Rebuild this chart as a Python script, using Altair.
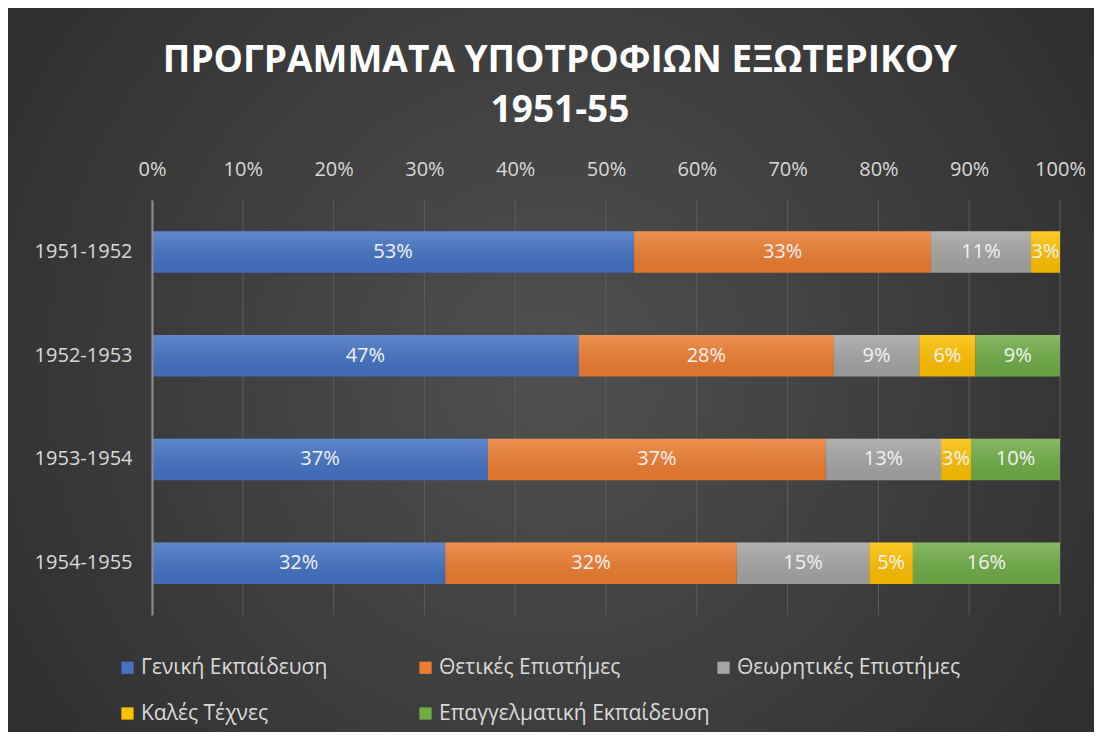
import altair as alt
import pandas as pd

periods = ["1951-1952", "1952-1953", "1953-1954", "1954-1955"]
categories = ["Γενική Εκπαίδευση", "Θετικές Επιστήμες", "Θεωρητικές Επιστήμες",
              "Καλές Τέχνες", "Επαγγελματική Εκπαίδευση"]
colors = ["#4472C4", "#ED7D31", "#A5A5A5", "#FFC000", "#70AD47"]
general = [53.1, 47.0, 37.0, 32.3]
positive = [32.7, 28.1, 37.2, 32.1]
theoretical = [11.0, 9.4, 12.7, 14.6]
arts = [3.2, 6.2, 3.3, 4.8]
vocational = [0.0, 9.3, 9.8, 16.2]
ticks = [0, 0.1, 0.2, 0.3, 0.4, 0.5, 0.6, 0.7, 0.8, 0.9, 1.0]
title_lines = ["ΠΡΟΓΡΑΜΜΑΤΑ ΥΠΟΤΡΟΦΙΩΝ ΕΞΩΤΕΡΙΚΟΥ", "1951-55"]

series = [general, positive, theoretical, arts, vocational]
rows = []
for ci, (cat, vals) in enumerate(zip(categories, series)):
    for p, v in zip(periods, vals):
        rows.append({"period": p, "category": cat, "ord": ci, "value": v})
df = pd.DataFrame(rows)

PW, PH = 908, 415
PADL, PADT = 144, 192
TW, TH = 1086, 724
PADR = TW - PADL - PW
PADB = TH - PADT - PH
FONT = "Open Sans"
LABEL_COLOR = "#d9d9d9"

xscale = alt.Scale(domain=[0, 1], nice=False, zero=True)
xaxis = alt.Axis(orient="top", format="%", values=ticks, grid=False, domain=False,
                 ticks=False, labelFontSize=20, labelColor=LABEL_COLOR, labelFont=FONT,
                 labelPadding=21, labelFlush=False, title=None, zindex=1)
yscale = alt.Scale(domain=periods, paddingInner=0.6, paddingOuter=0.3)
yaxis = alt.Axis(title=None, domain=True, domainColor="#8c8c8c", domainWidth=2,
                 ticks=False, labelFontSize=20, labelColor=LABEL_COLOR, labelFont=FONT,
                 labelPadding=20, zindex=1)

bg = alt.Chart(pd.DataFrame({"z": [0]})).mark_rect(
    color=alt.RadialGradient(
        gradient="radial",
        stops=[alt.GradientStop(color="#505050", offset=0),
               alt.GradientStop(color="#262626", offset=1)],
        x1=0.5, y1=0.5, x2=0.5, y2=0.5, r1=0, r2=0.75)
).encode(x=alt.value(-PADL), x2=alt.value(PW + PADR),
         y=alt.value(-PADT), y2=alt.value(PH + PADB))

grid = alt.Chart(pd.DataFrame({"t": ticks})).mark_rule(
    color="#5c5c5c", strokeWidth=1
).encode(x=alt.X("t:Q", scale=xscale, axis=xaxis),
         y=alt.value(0), y2=alt.value(PH))

base = alt.Chart(df).transform_stack(
    stack="value", groupby=["period"], as_=["v0", "v1"], offset="normalize",
    sort=[alt.SortField("ord", order="ascending")]
).transform_calculate(mid="(datum.v0 + datum.v1) / 2", pct="datum.v1 - datum.v0")

bars = base.mark_bar(strokeWidth=0).encode(
    x=alt.X("v0:Q", scale=xscale, axis=xaxis),
    x2="v1:Q",
    y=alt.Y("period:N", scale=yscale, axis=yaxis),
    color=alt.Color("category:N", scale=alt.Scale(domain=categories, range=colors),
                    legend=alt.Legend(orient="none", legendX=-35, legendY=457,
                                      direction="horizontal", columns=3, gridAlign="all",
                                      symbolType="square", symbolSize=150,
                                      symbolStrokeWidth=0, labelFontSize=21,
                                      labelColor=LABEL_COLOR, labelFont=FONT,
                                      labelOffset=3, columnPadding=3, rowPadding=24,
                                      title=None, labelLimit=400)),
)

overlay = base.mark_bar(
    strokeWidth=0,
    color=alt.LinearGradient(
        gradient="linear",
        stops=[alt.GradientStop(color="rgba(255,255,255,0.16)", offset=0),
               alt.GradientStop(color="rgba(0,0,0,0.08)", offset=1)],
        x1=0, y1=0, x2=0, y2=1)
).encode(
    x=alt.X("v0:Q", scale=xscale, axis=xaxis),
    x2="v1:Q",
    y=alt.Y("period:N", scale=yscale, axis=yaxis),
)

labels = base.transform_filter("datum.value > 0").mark_text(
    color="#f2f2f2", fontSize=20, font=FONT, baseline="middle", align="center"
).encode(
    x=alt.X("mid:Q", scale=xscale, axis=xaxis),
    y=alt.Y("period:N", scale=yscale, axis=yaxis),
    text=alt.Text("pct:Q", format=".0%"),
)

chart = alt.layer(bg, grid, bars, overlay, labels).properties(
    width=PW, height=PH,
    padding={"left": PADL, "top": PADT, "right": PADR, "bottom": PADB},
    autosize=alt.AutoSizeParams(type="none"),
    title=alt.TitleParams(text=title_lines, fontSize=37, font=FONT, fontWeight="bold",
                          color="white", anchor="middle", dx=-46, offset=-122,
                          lineHeight=50),
).configure_view(stroke=None).configure(background="#262626")

chart.save("out.html", embed_options={"renderer": "svg", "actions": False})
